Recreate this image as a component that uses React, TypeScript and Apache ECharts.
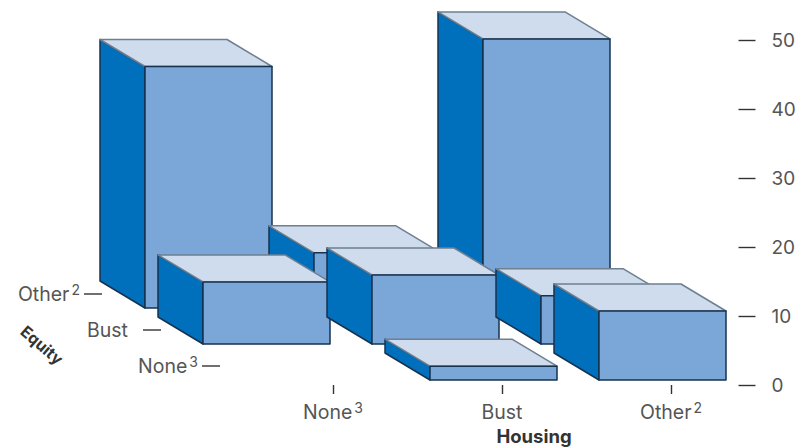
import React, { useEffect, useRef } from "react";
import * as echarts from "echarts";

// Housing categories run along the front edge, equity categories recede into the depth.
const housingLabels = ["None", "Bust", "Other"];
const housingNotes = ["3", "", "2"];
const equityLabels = ["None", "Bust", "Other"];
const equityNotes = ["3", "", "2"];
const valueTicks = { min: 0, max: 50, step: 10 };

// Bar heights per equity row, listed in housing order; null means no bar in that cell.
const equityNoneValues = [null, 2, 10];
const equityBustValues = [9, 10, 7];
const equityOtherValues = [35, 8, 39];

const FONT = "Inter, 'Liberation Sans', Arial, sans-serif";
const TEXT = "#555555";
const FRONT = "#7BA6D8";
const SIDE = "#0070BC";
const TOP = "#CFDCEE";
const EDGE = "#17324F";
const TOP_EDGE = "#6E7F90";

// Oblique projection of the floor and of each box.
const ROW_DX = -58;
const ROW_DY = -36;
const DEPTH_DX = -45;
const DEPTH_DY = -27;
const BOX_W = 127;
const FRONT_DX = -72;
const FRONT_DY = -5;

const rows = [equityNoneValues, equityBustValues, equityOtherValues];

// Painted from the far row forward, left to right, so nearer boxes overlap farther ones.
const boxData: number[][] = [];
for (let r = rows.length - 1; r >= 0; r--) {
  rows[r].forEach((v, c) => {
    if (v !== null) boxData.push([c, v, r]);
  });
}

const noteRich = {
  m: { fontFamily: FONT, fontSize: 19.5, color: TEXT, fill: TEXT, lineHeight: 23 },
  s: { fontFamily: FONT, fontSize: 14, color: TEXT, fill: TEXT, lineHeight: 15, verticalAlign: "top" as const, padding: [0, 0, 0, 2] },
};

const withNote = (name: string, note: string) => (note ? `{m|${name}}{s|${note}}` : `{m|${name}}`);

function renderBox(_params: any, api: any) {
  const col = api.value(0);
  const value = api.value(1);
  const row = api.value(2);
  const base = api.coord([col, 0]);
  const head = api.coord([col, value]);
  const x0 = base[0] + FRONT_DX + ROW_DX * row;
  const x1 = x0 + BOX_W;
  const yb = base[1] + FRONT_DY + ROW_DY * row;
  const yt = head[1] + FRONT_DY + ROW_DY * row;
  const poly = (points: number[][], fill: string, stroke: string) => ({
    type: "polygon",
    shape: { points },
    style: { fill, stroke, lineWidth: 1.5, lineJoin: "round" },
  });
  return {
    type: "group",
    children: [
      poly(
        [[x0, yt], [x0 + DEPTH_DX, yt + DEPTH_DY], [x0 + DEPTH_DX, yb + DEPTH_DY], [x0, yb]],
        SIDE,
        EDGE
      ),
      poly(
        [[x0, yt], [x0 + DEPTH_DX, yt + DEPTH_DY], [x1 + DEPTH_DX, yt + DEPTH_DY], [x1, yt]],
        TOP,
        TOP_EDGE
      ),
      poly([[x0, yt], [x1, yt], [x1, yb], [x0, yb]], FRONT, EDGE),
    ],
  };
}

// Depth axis: a short tick and a label beside each equity row.
function renderEquityAxis(_params: any, api: any) {
  const row = api.value(0);
  const base = api.coord([0, 0]);
  const xEnd = base[0] - 113 - 59 * row;
  const y = base[1] - 19 + ROW_DY * row;
  const gap = equityNotes[row] ? 4 : 15;
  return {
    type: "group",
    children: [
      {
        type: "line",
        shape: { x1: xEnd - 18, y1: y, x2: xEnd, y2: y },
        style: { stroke: "#333333", lineWidth: 1.4 },
      },
      {
        type: "text",
        style: {
          text: withNote(equityLabels[row], equityNotes[row]),
          rich: noteRich,
          x: xEnd - 18 - gap,
          y,
          align: "right",
          verticalAlign: "middle",
        },
      },
    ],
  };
}

export default function App() {
  const ref = useRef<HTMLDivElement>(null);

  useEffect(() => {
    document.body.style.margin = "0";
    const chart = echarts.init(ref.current!, null, { renderer: "svg" });
    chart.setOption({
      animation: false,
      backgroundColor: "#FFFFFF",
      grid: { left: 248.5, width: 507, top: 40, height: 345 },
      xAxis: {
        type: "category",
        data: housingLabels,
        boundaryGap: true,
        axisLine: { show: false },
        axisTick: { show: true, alignWithLabel: true, length: 9, lineStyle: { color: "#333333", width: 1.4 } },
        axisLabel: {
          margin: 15,
          rich: noteRich,
          formatter: (name: string) => withNote(name, housingNotes[housingLabels.indexOf(name)]),
        },
      },
      yAxis: {
        type: "value",
        position: "right",
        min: valueTicks.min,
        max: valueTicks.max,
        interval: valueTicks.step,
        splitLine: { show: false },
        axisLine: { show: false },
        axisTick: { show: true, inside: true, length: 17, lineStyle: { color: "#333333", width: 1.4 } },
        axisLabel: { margin: 16, fontFamily: FONT, fontSize: 19, color: TEXT },
      },
      series: [
        {
          type: "custom",
          coordinateSystem: "cartesian2d",
          clip: false,
          silent: true,
          renderItem: renderBox,
          data: boxData,
          encode: { x: 0, y: 1 },
        },
        {
          type: "custom",
          coordinateSystem: "cartesian2d",
          clip: false,
          silent: true,
          renderItem: renderEquityAxis,
          data: equityLabels.map((_, r) => [r]),
          encode: { x: 0 },
        },
      ],
      graphic: [
        {
          type: "text",
          x: 534,
          y: 436,
          style: {
            text: "Housing",
            font: `bold 18.5px ${FONT}`,
            fill: "#333333",
            align: "center",
            verticalAlign: "middle",
          },
        },
        {
          type: "text",
          x: 42,
          y: 345,
          rotation: (-41 * Math.PI) / 180,
          style: {
            text: "Equity",
            font: `bold 16px ${FONT}`,
            fill: "#333333",
            align: "center",
            verticalAlign: "middle",
          },
        },
      ],
    });
    return () => chart.dispose();
  }, []);

  return <div ref={ref} style={{ position: "absolute", left: 0, top: 0, width: 799, height: 447 }} />;
}
